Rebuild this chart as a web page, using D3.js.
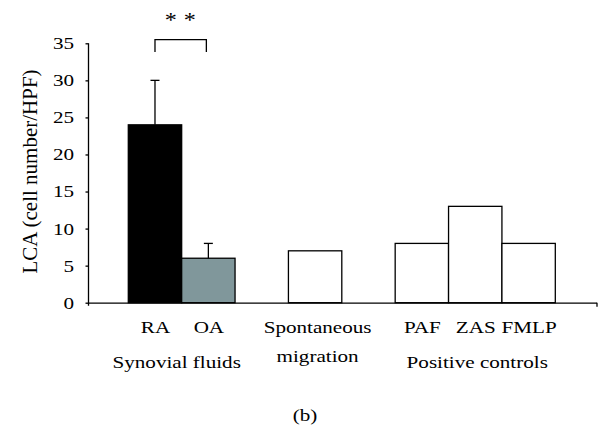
<!DOCTYPE html>
<html>
<head>
<meta charset="utf-8">
<script src="https://cdn.jsdelivr.net/npm/d3@7"></script>
<style>
  body { margin: 0; background: #fff; }
</style>
</head>
<body>
<div id="chart"></div>
<script>
// category slots along the x axis (gaps are empty slots)
const slots = ["RA", "OA", "gap1", "Spontaneous", "gap2", "PAF", "ZAS", "FMLP"];
const barNames = ["RA", "OA", "Spontaneous", "PAF", "ZAS", "FMLP"];
const barValues = [24, 6, 7, 8, 13, 8];
const barErrors = [6, 2, 0, 0, 0, 0];
const tickLabels = ["RA", "OA", "Spontaneous", "PAF", "ZAS", "FMLP"];
const subLabels = ["", "", "migration", "", "", ""];
const groupNames = ["Synovial fluids", "Positive controls"];
const groupMembers = [["RA", "OA"], ["PAF", "ZAS", "FMLP"]];
const yTicks = [0, 5, 10, 15, 20, 25, 30, 35];
const sigPair = ["RA", "OA"];
const sigText = "*";
const yTitle = "LCA (cell number/HPF)";
const panelLabel = "(b)";

const fills = { RA: "#000000", OA: "#80979b" };
const serif = "'Liberation Serif'";
const stretch = 1.32; // source text is horizontally stretched

const outerWidth = 603;
const outerHeight = 436;
const axisLeftX = 88.5;
const axisRightX = 596.5;
const y0 = 302.7;
const yTop = 43.3;

const svg = d3
  .select("#chart")
  .append("svg")
  .attr("width", outerWidth)
  .attr("height", outerHeight);

const xScale = d3.scaleBand().domain(slots).range([128.3, 555.3]).padding(0);
const yScale = d3.scaleLinear().domain([0, 35]).range([y0, yTop]);
const xFrame = d3.scaleLinear().domain([0, 1]).range([axisLeftX, axisRightX]);

// bars
svg
  .append("g")
  .selectAll("rect")
  .data(barNames)
  .enter()
  .append("rect")
  .attr("x", d => xScale(d))
  .attr("width", xScale.bandwidth())
  .attr("y", (d, i) => yScale(barValues[i]))
  .attr("height", (d, i) => yScale(0) - yScale(barValues[i]))
  .attr("fill", d => fills[d] || "#ffffff")
  .attr("stroke", "#000")
  .attr("stroke-width", 1.3);

// error bars (upper only)
const errG = svg.append("g").attr("stroke", "#000").attr("stroke-width", 1.3);
barNames.forEach(function(d, i) {
  if (!barErrors[i]) return;
  const cx = xScale(d) + xScale.bandwidth() / 2;
  errG.append("line")
    .attr("x1", cx).attr("x2", cx)
    .attr("y1", yScale(barValues[i])).attr("y2", yScale(barValues[i] + barErrors[i]));
  errG.append("line")
    .attr("x1", cx - 4.5).attr("x2", cx + 4.5)
    .attr("y1", yScale(barValues[i] + barErrors[i])).attr("y2", yScale(barValues[i] + barErrors[i]));
});

// y axis
const yAxisG = svg
  .append("g")
  .attr("transform", "translate(" + axisLeftX + ",0)")
  .call(d3.axisLeft(yScale).tickValues(yTicks).tickSize(3).tickSizeOuter(0));
yAxisG.attr("font-family", null).attr("font-size", null);
yAxisG.select(".domain").attr("stroke-width", 1.3).attr("d", "M0," + yTop + "V" + (y0 + 3));
yAxisG.selectAll(".tick line").attr("stroke-width", 1.3);
yAxisG
  .selectAll(".tick text")
  .attr("x", 0)
  .attr("dy", "0.34em")
  .attr("transform", "translate(-14.5,0) scale(" + stretch + ",1)")
  .style("font-family", serif)
  .style("font-size", "16px");

// x axis (ticks only at the ends)
const xAxisG = svg
  .append("g")
  .attr("transform", "translate(0," + y0 + ")")
  .call(d3.axisBottom(xFrame).tickValues([1]).tickSize(4).tickSizeOuter(0).tickFormat(""));
xAxisG.selectAll("line, path").attr("stroke-width", 1.3);

// helper for stretched text
function addText(parent, x, y, str, size) {
  return parent.append("text")
    .attr("text-anchor", "middle")
    .attr("transform", "translate(" + x + "," + y + ") scale(" + stretch + ",1)")
    .style("font-family", serif)
    .style("font-size", size + "px")
    .attr("fill", "#000")
    .text(str);
}

// category labels
const labelG = svg.append("g");
tickLabels.forEach(function(d, i) {
  const cx = xScale(barNames[i]) + xScale.bandwidth() / 2 + (d === "Spontaneous" ? 2.5 : 0.5);
  addText(labelG, cx, 333.3, d, 16);
  if (subLabels[i]) addText(labelG, cx, 361.5, subLabels[i], 16);
});

// group labels
groupNames.forEach(function(g, i) {
  const members = groupMembers[i];
  const left = xScale(members[0]);
  const right = xScale(members[members.length - 1]) + xScale.bandwidth();
  const cx = (left + right) / 2 + (i === 0 ? -5 : 2);
  addText(labelG, cx, 368.3, g, 16);
});

// y title
svg
  .append("text")
  .attr("text-anchor", "middle")
  .attr("transform", "translate(36.5,171.5) rotate(-90)")
  .style("font-family", serif)
  .style("font-size", "21px")
  .text(yTitle);

// significance bracket
const sx1 = xScale(sigPair[0]) + xScale.bandwidth() / 2;
const sx2 = xScale(sigPair[1]) + xScale.bandwidth() / 2 - 2;
svg
  .append("path")
  .attr("d", "M" + sx1 + ",52V39.7H" + sx2 + "V52")
  .attr("fill", "none")
  .attr("stroke", "#000")
  .attr("stroke-width", 1.3);
const smid = (sx1 + sx2) / 2;
[-10, 9].forEach(function(off) {
  svg.append("text")
    .attr("text-anchor", "middle")
    .attr("transform", "translate(" + (smid + off) + ",27) scale(1.15,1)")
    .style("font-family", serif)
    .style("font-size", "21px")
    .text(sigText);
});

// panel label
addText(svg, 305, 420.5, panelLabel, 16);
</script>
</body>
</html>
